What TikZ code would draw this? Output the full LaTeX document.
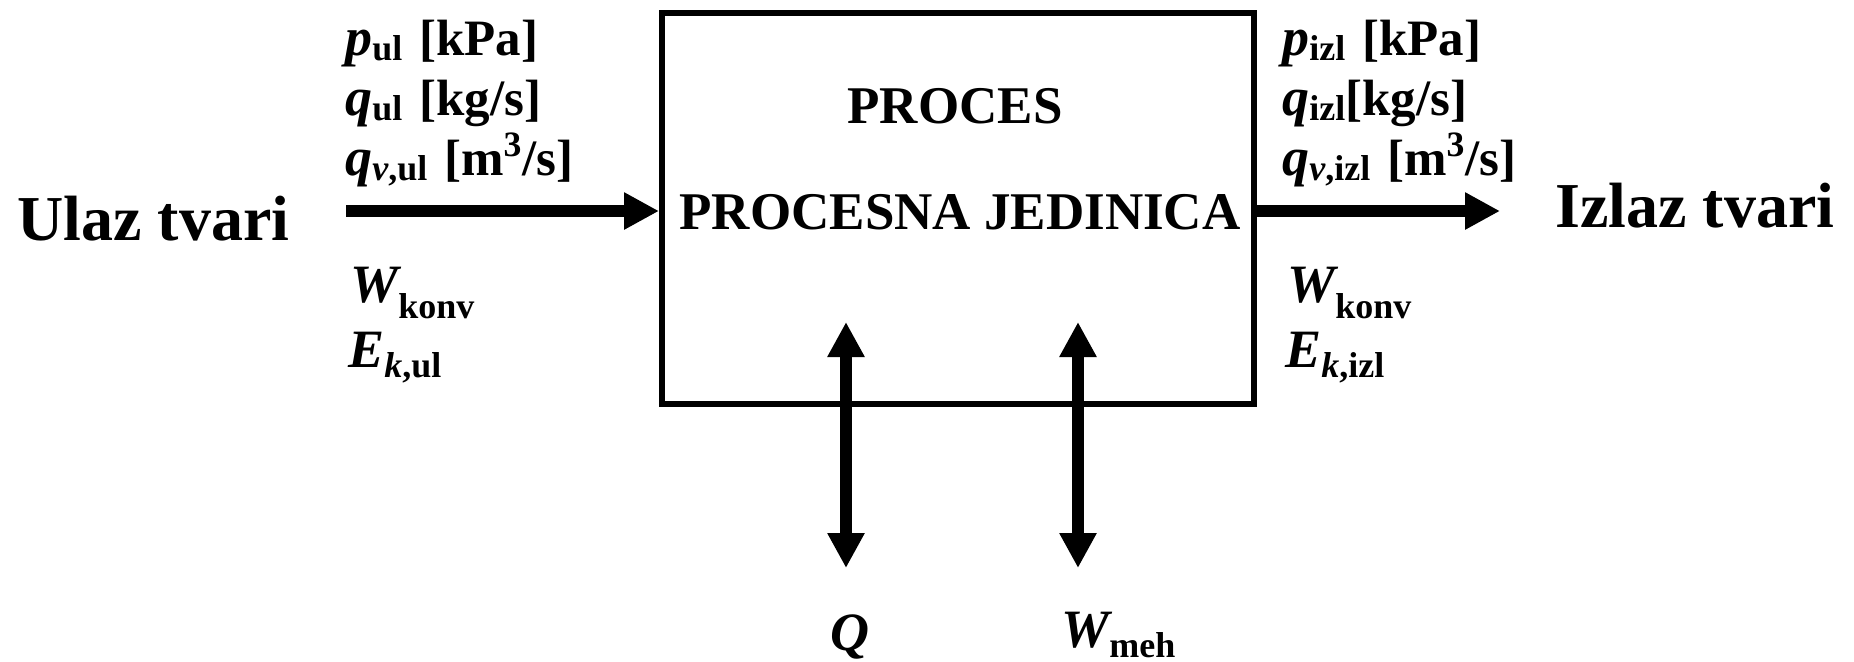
\documentclass[tikz,border=0pt]{standalone}
\usepackage{fontspec}
\setmainfont{Liberation Serif}
\usetikzlibrary{arrows.meta}

\newcommand{\vel}[1]{{\fontsize{27}{29}\selectfont\itshape #1}}
\newcommand{\indeks}[2][2.5pt]{\raisebox{-#1}{\fontsize{18}{18}\selectfont #2}}

\begin{document}
\begin{tikzpicture}[
  x=0.5pt, y=-0.5pt,
  jedinica/.style={draw, line width=3pt, minimum width=296pt, minimum height=195.5pt, inner sep=0pt},
  naslov/.style={font=\fontsize{26.5}{30}\selectfont\bfseries, anchor=base, inner sep=0pt},
  tvar/.style={font=\fontsize{32}{36}\selectfont\bfseries, anchor=base west, inner sep=0pt},
  oznaka/.style={font=\fontsize{25.5}{29}\selectfont\bfseries, anchor=base west, inner sep=0pt},
  tok/.style={-{Triangle[length=17.5pt, width=17.5pt]}, line width=6pt},
  dvotok/.style={{Triangle[length=17.5pt, width=17.5pt]}-{Triangle[length=17.5pt, width=17.5pt]}, line width=6pt}
]
  \useasboundingbox (0,0) rectangle (1854,661);

  % procesna jedinica
  \node[jedinica] (proces) at (958,208.5) {};
  \node[naslov] (proces1) at (955,123) {PROCES};
  \node[naslov] (proces2) at (960,229) {PROCESNA JEDINICA};

  % ulaz i izlaz
  \node[tvar] (ulaz) at (17,240) {Ulaz tvari};
  \node[tvar] (izlaz) at (1555,227) {Izlaz tvari};

  \coordinate (ulazpoc) at (346,211);
  \coordinate (izlazkraj) at (1500,211);
  \draw[tok] (ulazpoc) -- (ulazpoc -| proces.west);
  \draw[tok] (izlazkraj -| proces.east) -- (izlazkraj);

  % oznake ulaza
  \node[oznaka] (pul) at (345,55) {\vel{p}\indeks{ul}\hspace{2pt} [kPa]};
  \node[oznaka] (qul) at (345,115) {\vel{q}\indeks{ul}\hspace{2pt} [kg/s]};
  \node[oznaka] (qvul) at (345,175) {\vel{q}\indeks{\vel{\fontsize{18}{18}\selectfont v},ul}\hspace{2pt} [m\textsuperscript{3}/s]};
  \node[oznaka] (wul) at (350,302) {\vel{W}\indeks[8pt]{konv}};
  \node[oznaka] (ekul) at (348,367) {\vel{E}\indeks[5pt]{\vel{\fontsize{18}{18}\selectfont k},ul}};

  % oznake izlaza
  \node[oznaka] (pizl) at (1282,55) {\vel{p}\indeks{izl}\hspace{2pt} [kPa]};
  \node[oznaka] (qizl) at (1282,115) {\vel{q}\indeks{izl}[kg/s]};
  \node[oznaka] (qvizl) at (1282,175) {\vel{q}\indeks{\vel{\fontsize{18}{18}\selectfont v},izl}\hspace{2pt} [m\textsuperscript{3}/s]};
  \node[oznaka] (wizl) at (1287,302) {\vel{W}\indeks[8pt]{konv}};
  \node[oznaka] (ekizl) at (1285,367) {\vel{E}\indeks[5pt]{\vel{\fontsize{18}{18}\selectfont k},izl}};

  % toplina i rad
  \coordinate (qgore) at (846,322);
  \coordinate (qdolje) at (846,568);
  \coordinate (wgore) at (1078,322);
  \coordinate (wdolje) at (1078,568);
  \draw[dvotok] (qgore) -- (qdolje);
  \draw[dvotok] (wgore) -- (wdolje);

  \node[oznaka] (q) at (830,650) {\vel{Q}};
  \node[oznaka] (wmeh) at (1061,647) {\vel{W}\indeks[5pt]{meh}};
\end{tikzpicture}
\end{document}
